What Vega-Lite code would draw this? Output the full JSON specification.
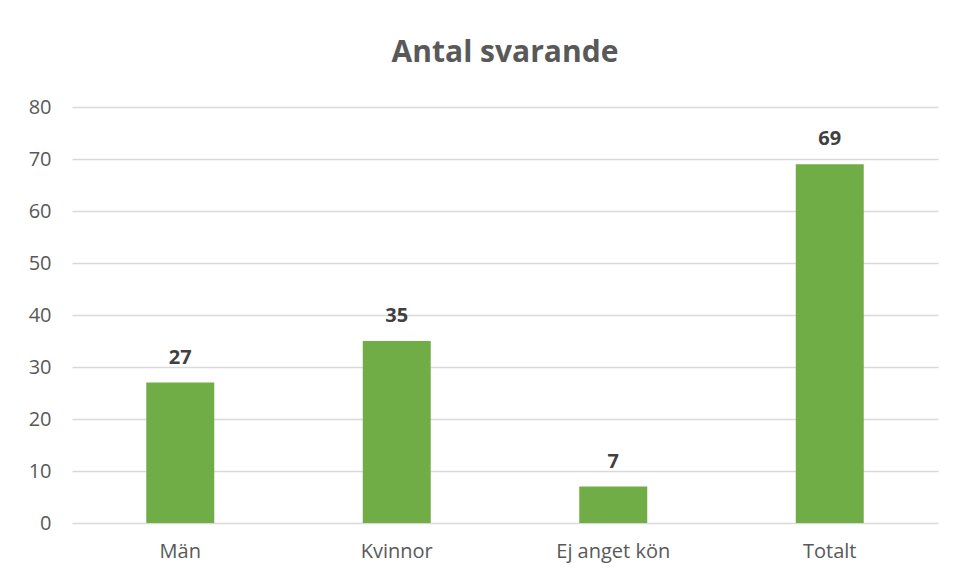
{
  "$schema": "https://vega.github.io/schema/vega-lite/v6.json",
  "autosize": {"type": "none"},
  "width": 866,
  "height": 416,
  "padding": {"left": 72, "top": 107, "right": 19, "bottom": 57},
  "background": "white",
  "config": {"view": {"stroke": null}, "font": "Open Sans"},
  "title": {
    "text": "Antal svarande",
    "fontSize": 30,
    "fontWeight": "bold",
    "color": "#595959",
    "font": "Open Sans",
    "anchor": "middle",
    "offset": 29
  },
  "data": {
    "values": [
      {"kategori": "Män", "antal": 27},
      {"kategori": "Kvinnor", "antal": 35},
      {"kategori": "Ej anget kön", "antal": 7},
      {"kategori": "Totalt", "antal": 69}
    ]
  },
  "encoding": {
    "x": {
      "field": "kategori",
      "type": "nominal",
      "sort": null,
      "scale": {"paddingInner": 0.686, "paddingOuter": 0.343},
      "axis": {
        "title": null,
        "labelAngle": 0,
        "labelFontSize": 20,
        "labelColor": "#595959",
        "labelPadding": 18,
        "ticks": false,
        "domain": false,
        "grid": false
      }
    },
    "y": {
      "field": "antal",
      "type": "quantitative",
      "scale": {"domain": [0, 80], "nice": false},
      "axis": {
        "title": null,
        "values": [0, 10, 20, 30, 40, 50, 60, 70, 80],
        "labelFontSize": 20,
        "labelColor": "#595959",
        "labelPadding": 21,
        "ticks": false,
        "domain": false,
        "grid": true,
        "gridColor": "#d9d9d9",
        "gridWidth": 1.5
      }
    }
  },
  "layer": [
    {"mark": {"type": "bar", "color": "#70AD47"}},
    {
      "mark": {"type": "text", "dy": -25, "fontSize": 20, "fontWeight": "bold", "color": "#404040"},
      "encoding": {"text": {"field": "antal", "type": "quantitative"}}
    }
  ]
}
